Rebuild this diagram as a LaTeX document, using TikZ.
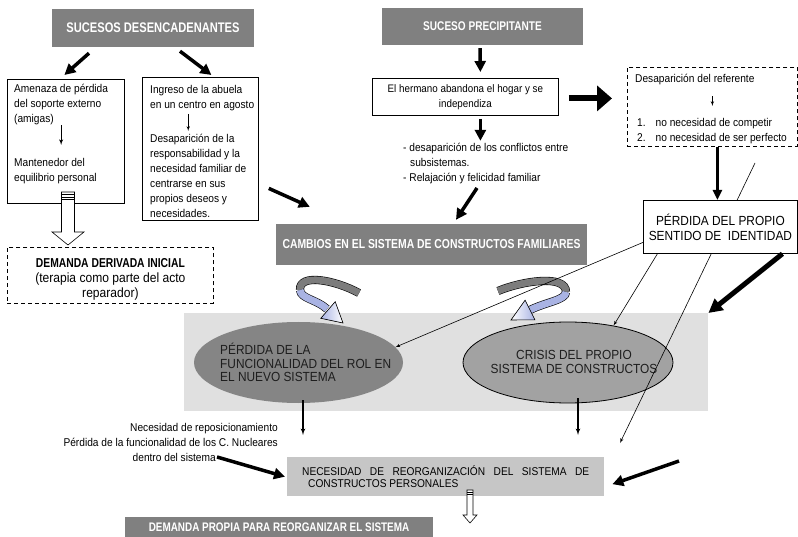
\documentclass[tikz,border=0pt]{standalone}
\usepackage{fontspec}
\setmainfont{Liberation Sans}
\newfontfamily\bodyfont{Liberation Sans}[FakeStretch=0.9]
\newfontfamily\titlefont{Liberation Sans}[FakeStretch=0.8]
\usetikzlibrary{arrows,arrows.meta,shapes.geometric,positioning,calc}

\definecolor{titlegray}{HTML}{808080}
\definecolor{bggray}{HTML}{E0E0E0}
\definecolor{boxgray}{HTML}{C6C6C6}
\definecolor{rolgray}{HTML}{858585}
\definecolor{crisisgray}{HTML}{A2A2A2}
\definecolor{bandgray}{HTML}{7C7C7C}
\definecolor{bandblue}{HTML}{A9B3E3}
\definecolor{inktext}{HTML}{1E1E1E}

\newcommand{\tsize}[1]{\titlefont\bfseries\fontsize{#1}{#1}\selectfont}
\newcommand{\bsize}[2]{\bodyfont\fontsize{#1}{#2}\selectfont}

\tikzstyle{titlebox} = [rectangle, fill=titlegray, text=white, inner sep=0pt]
\tikzstyle{textbox} = [rectangle, draw, fill=white, line width=0.8pt, inner sep=0pt, anchor=north west]
\tikzstyle{dashbox} = [textbox, dash pattern=on 4pt off 3pt]
\tikzstyle{txt} = [inner sep=0pt, anchor=north west, align=left, font=\bsize{11.3}{15}]
\tikzstyle{bigarrow} = [line width=3.5pt, -{Triangle[length=11pt,width=11pt]}]
\tikzstyle{hugearrow} = [line width=6pt, -{Triangle[length=15pt,width=25pt]}]
\tikzstyle{thinarrow} = [line width=0.6pt, ->]
\tikzstyle{band} = [line width=0.6pt, double=bandgray, double distance=7pt]
\tikzstyle{hollow} = [draw, fill=white, line width=0.6pt]

\begin{document}
\begin{tikzpicture}[x=1pt, y=-1pt, >=latex']

    % Nodes
    \path[fill=white, use as bounding box] (0,0) rectangle (798,537);

    \node [fill=bggray, inner sep=0pt, minimum width=524pt, minimum height=98pt, anchor=north west] (sys) at (184,313) {};
    \node [ellipse, fill=rolgray, inner sep=0pt, minimum width=209pt, minimum height=81pt] (rol) at (298.5,362.5) {};
    \node [ellipse, draw, line width=0.8pt, fill=crisisgray, inner sep=0pt, minimum width=210pt, minimum height=81pt] (crisis) at (568,362.5) {};
    \node [txt, text=inktext, font=\bsize{13.2}{13.5}] (rolT) at (220,343) {PÉRDIDA DE LA\\FUNCIONALIDAD DEL ROL EN\\EL NUEVO SISTEMA};
    \node [inner sep=0pt, align=center, text=inktext, font=\bsize{13.2}{14}] (crisisT) at (574,362) {CRISIS DEL PROPIO\\SISTEMA DE CONSTRUCTOS};

    % curved arrows
    \draw [band] (359,293) .. controls (335,280) and (299,273) .. (300,290);
    \draw [band, double=bandblue] (300,290) .. controls (301,299) and (316,299) .. (327,309);
    \filldraw [line width=0.6pt, left color=bandblue, right color=white] (335.2,301.7) -- (343,323) -- (320.8,318.3) -- cycle;
    \draw [band] (498,291) .. controls (522,281) and (566,274) .. (566,292);
    \draw [band, double=bandblue] (566,292) .. controls (566,300) and (546,302) .. (530,310);
    \filldraw [line width=0.6pt, left color=white, right color=bandblue] (534.9,319.8) -- (511,320) -- (525.1,300.2) -- cycle;

    \node [titlebox, minimum width=202pt, minimum height=38pt, font=\tsize{13.9}] (sd) at (153,28) {SUCESOS DESENCADENANTES};
    \node [titlebox, minimum width=201pt, minimum height=37pt, font=\tsize{12.6}] (sp) at (482.5,26.5) {SUCESO PRECIPITANTE};
    \node [titlebox, minimum width=311pt, minimum height=41pt, font=\tsize{13}] (cambios) at (431.5,244.5) {CAMBIOS EN EL SISTEMA DE CONSTRUCTOS FAMILIARES};
    \node [titlebox, minimum width=308pt, minimum height=21pt, font=\tsize{12.4}] (dp) at (279,527.5) {DEMANDA PROPIA PARA REORGANIZAR EL SISTEMA};

    \node [textbox, minimum width=117pt, minimum height=124pt] (amenaza) at (7,79) {};
    \node [txt] (amA) at (14,84) {Amenaza de pérdida\\del soporte externo\\(amigas)};
    \node [txt] (amB) at (14,158) {Mantenedor del\\equilibrio personal};

    \node [textbox, minimum width=116pt, minimum height=143pt] (ingreso) at (142,77) {};
    \node [txt] (inA) at (150,85) {Ingreso de la abuela\\en un centro en agosto};
    \node [txt] (inB) at (150,134) {Desaparición de la\\responsabilidad y la\\necesidad familiar de\\centrarse en sus\\propios deseos y\\necesidades.};

    \node [textbox, minimum width=186pt, minimum height=37pt, align=center, font=\bsize{10.9}{15}] (hermano) at (372,78) {El hermano abandona el hogar y se\\independiza};
    \node [txt] (cq) at (403,143) {- desaparición de los conflictos entre\\\hspace*{7pt}subsistemas.\\- Relajación y felicidad familiar};

    \node [dashbox, minimum width=170pt, minimum height=79pt] (desap) at (627,67) {};
    \node [txt] (dsA) at (635,74) {Desaparición del referente};
    \node [txt] (dsB) at (637,118) {1.\hspace{10pt}no necesidad de competir\\2.\hspace{10pt}no necesidad de ser perfecto};

    \node [dashbox, minimum width=206pt, minimum height=56pt, align=center, font=\bsize{13.4}{15}] (demderiv) at (7,247) {{\tsize{12.9}\rule{0pt}{17pt}DEMANDA DERIVADA INICIAL}\\(terapia como parte del acto\\reparador)};

    \node [fill=boxgray, anchor=north west, inner xsep=15pt, inner ysep=0pt, minimum height=39pt, text width=287pt, align=justify, font=\bsize{11.3}{12.5}] (necesidad) at (287,457) {NECESIDAD DE REORGANIZACIÓN DEL SISTEMA DE\linebreak\hspace*{6pt}CONSTRUCTOS PERSONALES};
    \node [txt, align=right, anchor=north east] (lt) at (278,423.5) {Necesidad de reposicionamiento\\Pérdida de la funcionalidad de los C. Nucleares\\dentro del sistema\hspace*{62pt}};

    \coordinate (cqStart) at (477,188);
    \coordinate (ltStart) at (217,457);
    \coordinate (rightStart) at (679,461);
    \coordinate (lineStart) at (755,163);
    \coordinate (lineEnd) at (620,443);
    \coordinate (rolEnd) at (303,435);
    \coordinate (crisisEnd) at (578,435);
    \coordinate (h1) at (68,192);
    \coordinate (h2) at (470,490);

    \draw [thinarrow] (lineStart) -- (lineEnd);
    \node [textbox, minimum width=154pt, minimum height=53pt, align=center, font=\bsize{13.2}{15}] (perdidaid) at (643,200) {PÉRDIDA DEL PROPIO\\SENTIDO DE\ \ IDENTIDAD};

    % Connections
    \draw [bigarrow] ([shift={(-64,6)}]sd.south) -- ([shift={(-1.5,-4)}]amenaza.north);
    \draw [bigarrow] ([shift={(27,4)}]sd.south) -- ([shift={(11,-2)}]ingreso.north);
    \draw [bigarrow] ([shift={(-2.5,3)}]sp.south) -- ([shift={(15,-6)}]hermano.north);
    \draw [bigarrow] ([shift={(15,3)}]hermano.south) -- ([shift={(15,25)}]hermano.south);
    \draw [hugearrow] ([shift={(10,1.5)}]hermano.east) -- ([shift={(-15,-8.5)}]desap.west);
    \draw [line width=2.5pt, -{Triangle[length=10pt,width=9pt]}] ([xshift=5pt]desap.south) -- ([xshift=-3pt]perdidaid.north);
    \draw [bigarrow] ([shift={(10,39.5)}]ingreso.east) -- ([shift={(34,-17)}]cambios.north west);
    \draw [bigarrow] (cqStart) -- ([shift={(24.5,-4)}]cambios.north);

    \draw [line width=0.9pt, ->, shorten >=13pt] (amA.south) -- (amA.south |- amB.north);
    \draw [thinarrow, shorten <=3pt, shorten >=3pt] ($(inA.south)+(-14pt,0)$) -- ($(inA.south |- inB.north)+(-14pt,0)$);
    \draw [thinarrow, shorten <=11pt, shorten >=12pt] (dsA.south -| desap.north) -- (dsB.north -| desap.north);

    \draw [hollow] ([xshift=-6.5pt]h1) -- ++(0,40) -- ++(-9.5,0) -- ++(16,13) -- ++(16,-13) -- ++(-9.5,0) -- ++(0,-40) -- cycle;
    \foreach \s in {2.5,5,7.5}
        \draw [line width=0.5pt] ([shift={(-6.5,\s)}]h1) -- ++(13,0);

    \draw [thinarrow] ([yshift=-15.5pt]perdidaid.west) -- (rol.9);
    \draw [thinarrow] ([xshift=-63pt]perdidaid.south) -- (crisis.39);
    \draw [line width=5pt, -{Triangle[length=14pt,width=14pt]}] ([xshift=62pt]perdidaid.south) -- (sys.north east);

    \draw [line width=1.2pt, ->] ([shift={(4.5,-3)}]rol.south) -- (rolEnd);
    \draw [line width=1.2pt, ->] ([shift={(10,-5)}]crisis.south) -- (crisisEnd);
    \draw [bigarrow] (ltStart) -- ([xshift=-2pt]necesidad.west);
    \draw [bigarrow] (rightStart) -- ([shift={(8,7.5)}]necesidad.east);

    \draw [hollow] ([xshift=-3pt]h2) -- ++(0,25) -- ++(-4,0) -- ++(7,8) -- ++(7,-8) -- ++(-4,0) -- ++(0,-25) -- cycle;
    \foreach \s in {2,4}
        \draw [line width=0.5pt] ([shift={(-3,\s)}]h2) -- ++(6,0);

\end{tikzpicture}
\end{document}
